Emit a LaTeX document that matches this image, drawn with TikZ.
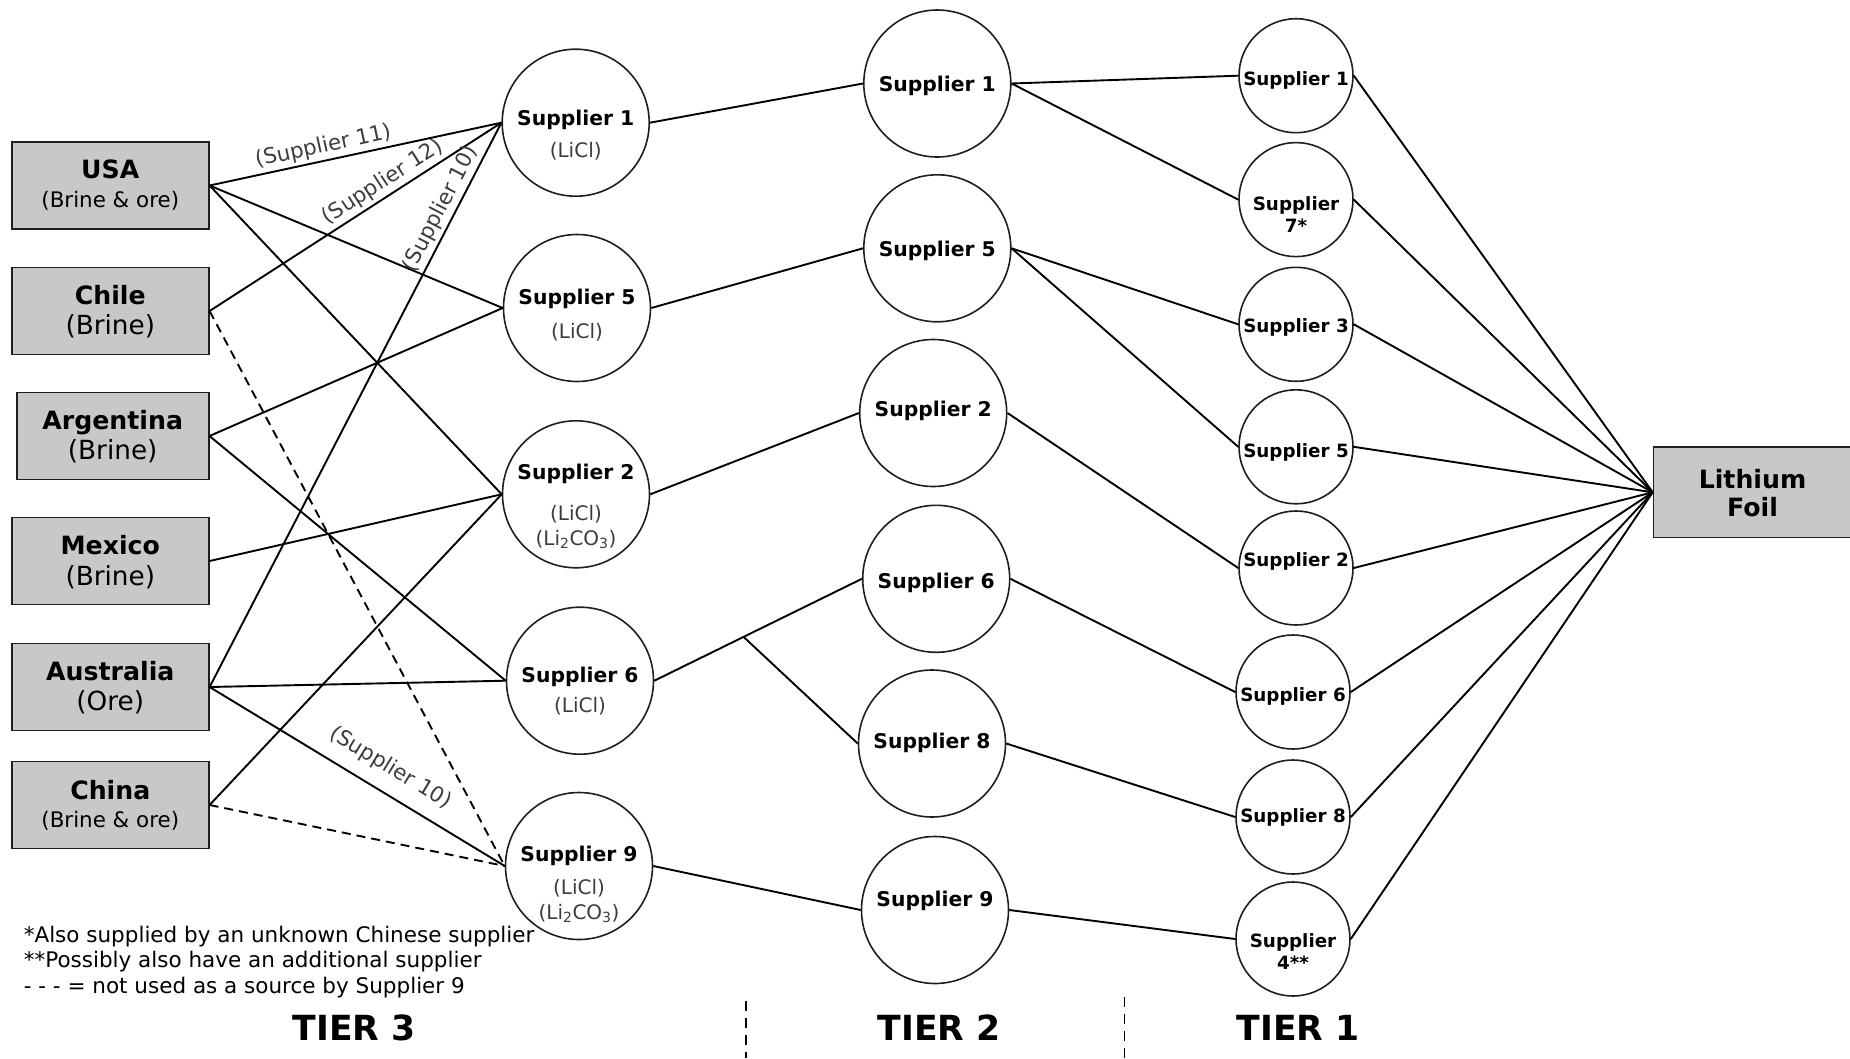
\documentclass[tikz,border=0pt]{standalone}
\usepackage{fontspec}
\setmainfont{DejaVu Sans}
\definecolor{boxfill}{RGB}{200,200,200}
\definecolor{ink}{RGB}{30,30,30}
\definecolor{soft}{RGB}{60,60,60}
\begin{document}
\begin{tikzpicture}[x=1pt,y=-1pt,
  country/.style={draw=ink, line width=1.6pt, fill=boxfill, minimum width=197pt, minimum height=87pt, inner sep=0pt},
  big/.style={circle, draw=ink, line width=1.6pt, minimum size=147pt, inner sep=0pt},
  small/.style={circle, draw=ink, line width=1.6pt, minimum size=114pt, inner sep=0pt},
  ctitle/.style={anchor=mid, yshift=-7pt, inner sep=0pt, font=\fontsize{25.2}{30}\selectfont\bfseries},
  csubA/.style={anchor=mid, yshift=-6.5pt, inner sep=0pt, font=\fontsize{21.4}{26}\selectfont},
  csubB/.style={anchor=mid, yshift=-8pt, inner sep=0pt, font=\fontsize{26.3}{31}\selectfont},
  sname/.style={anchor=mid, yshift=-5pt, inner sep=0pt, font=\fontsize{20.3}{24}\selectfont\bfseries},
  tname/.style={anchor=mid, yshift=-5pt, inner sep=0pt, font=\fontsize{18.3}{21}\selectfont\bfseries},
  chem/.style={anchor=mid, yshift=-5.5pt, inner sep=0pt, text=soft, font=\fontsize{20}{24}\selectfont},
  link/.style={line width=1.9pt, draw=black},
  notused/.style={link, dash pattern=on 9pt off 6pt},
  elabel/.style={sloped, above, inner sep=3pt, text=soft, font=\fontsize{21.3}{25}\selectfont},
  tier/.style={anchor=mid, yshift=-10.5pt, inner sep=0pt, font=\fontsize{34.6}{40}\selectfont\bfseries},
  note/.style={anchor=mid west, yshift=-6pt, inner sep=0pt, font=\fontsize{21.5}{25}\selectfont},
  divider/.style={line width=1.5pt, draw=black, dash pattern=on 10pt off 7pt}
]
\useasboundingbox (0,0) rectangle (1850,1058);

% ---- raw material sources ----
\node[country] (usa) at (110.3,185.5) {};
\node[ctitle] (usa-t) at (110.3,169) {USA};
\node[csubA] (usa-s) at (110.3,198.5) {(Brine \& ore)};

\node[country] (chile) at (110.3,311) {};
\node[ctitle] (chile-t) at (110.3,294.5) {Chile};
\node[csubB] (chile-s) at (110.3,324) {(Brine)};

\node[country, minimum width=192pt] (arg) at (112.7,436) {};
\node[ctitle] (arg-t) at (112.7,419.5) {Argentina};
\node[csubB] (arg-s) at (112.7,449) {(Brine)};

\node[country] (mex) at (110.3,561) {};
\node[ctitle] (mex-t) at (110.3,544.5) {Mexico};
\node[csubB] (mex-s) at (110.3,575) {(Brine)};

\node[country] (aus) at (110.3,687) {};
\node[ctitle] (aus-t) at (110.3,670.5) {Australia};
\node[csubB] (aus-s) at (110.3,700) {(Ore)};

\node[country] (china) at (110.3,805) {};
\node[ctitle] (china-t) at (110.3,789.5) {China};
\node[csubA] (china-s) at (110.3,818.5) {(Brine \& ore)};

% ---- tier 3 ----
\node[big] (s1) at (575.7,122.7) {};
\node[sname] (s1-n) at (575.7,118) {Supplier 1};
\node[chem] (s1-c) at (575.7,149.7) {(LiCl)};

\node[big] (s5) at (577,308) {};
\node[sname] (s5-n) at (577,296.7) {Supplier 5};
\node[chem] (s5-c) at (577,330) {(LiCl)};

\node[big] (s2) at (576,494.3) {};
\node[sname] (s2-n) at (576,471.7) {Supplier 2};
\node[chem] (s2-c) at (576,512.5) {(LiCl)};
\node[chem] (s2-d) at (576,537.4) {(Li\textsubscript{2}CO\textsubscript{3})};

\node[big] (s6) at (580,680.7) {};
\node[sname] (s6-n) at (580,674.4) {Supplier 6};
\node[chem] (s6-c) at (580,704.6) {(LiCl)};

\node[big] (s9) at (579,866) {};
\node[sname] (s9-n) at (579,854) {Supplier 9};
\node[chem] (s9-c) at (579,886.4) {(LiCl)};
\node[chem] (s9-d) at (579,911.3) {(Li\textsubscript{2}CO\textsubscript{3})};

% ---- tier 2 ----
\node[big] (a1) at (937.3,83.5) {};
\node[sname] (a1-n) at (937.3,83.5) {Supplier 1};
\node[big] (a5) at (937.3,248.3) {};
\node[sname] (a5-n) at (937.3,248.3) {Supplier 5};
\node[big] (a2) at (933.2,413) {};
\node[sname] (a2-n) at (933.2,409) {Supplier 2};
\node[big] (a6) at (936.2,578.8) {};
\node[sname] (a6-n) at (936.2,580.5) {Supplier 6};
\node[big] (a8) at (932,743.5) {};
\node[sname] (a8-n) at (932,741) {Supplier 8};
\node[big] (a9) at (935,910) {};
\node[sname] (a9-n) at (935,898.6) {Supplier 9};

% ---- tier 1 ----
\node[small] (b1) at (1296,75.7) {};
\node[tname] (b1-n) at (1296,77.7) {Supplier 1};
\node[small] (b7) at (1296,199.6) {};
\node[tname] (b7-n) at (1296,202.9) {Supplier};
\node[tname] (b7-m) at (1296,224.3) {7*};
\node[small] (b3) at (1296,324.3) {};
\node[tname] (b3-n) at (1296,324.3) {Supplier 3};
\node[small] (b5) at (1296,446.8) {};
\node[tname] (b5-n) at (1296,449.3) {Supplier 5};
\node[small] (b2) at (1296,568) {};
\node[tname] (b2-n) at (1296,558.7) {Supplier 2};
\node[small] (b6) at (1293,692) {};
\node[tname] (b6-n) at (1293,694) {Supplier 6};
\node[small] (b8) at (1293,817) {};
\node[tname] (b8-n) at (1293,815) {Supplier 8};
\node[small] (b4) at (1293,939) {};
\node[tname] (b4-n) at (1293,940) {Supplier};
\node[tname] (b4-m) at (1293,961.6) {4**};

% ---- product ----
\node[country, minimum width=198pt, minimum height=90.5pt] (foil) at (1752.5,492.3) {};
\node[ctitle] (foil-t) at (1752.5,478.6) {Lithium};
\node[ctitle] (foil-s) at (1752.5,507) {Foil};

% ---- sources to tier 3 ----
\draw[link] (usa.east) -- node[elabel, pos=0.4] {(Supplier 11)} (s1.west);
\draw[link] (usa.east) -- (s5.west);
\draw[link] (usa.east) -- (s2.west);
\draw[link] (chile.east) -- node[elabel, pos=0.62] {(Supplier 12)} (s1.west);
\draw[notused] (chile.east) -- (s9.west);
\draw[link] (arg.east) -- (s5.west);
\draw[link] (arg.east) -- (s6.west);
\draw[link] (mex.east) -- (s2.west);
\draw[link] (aus.east) -- node[elabel, pos=0.835] {(Supplier 10)} (s1.west);
\draw[link] (aus.east) -- (s6.west);
\draw[link] (aus.east) -- node[elabel, pos=0.57, above=10pt] {(Supplier 10)} (s9.west);
\draw[link] (china.east) -- (s2.west);
\draw[notused] (china.east) -- (s9.west);

% ---- tier 3 to tier 2 ----
\draw[link] (s1.east) -- (a1.west);
\draw[link] (s5.east) -- (a5.west);
\draw[link] (s2.east) -- (a2.west);
\draw[link] (s6.east) -- coordinate[pos=0.43] (fork) (a6.west);
\draw[link] (fork) -- (a8.west);
\draw[link] (s9.east) -- (a9.west);

% ---- tier 2 to tier 1 ----
\draw[link] (a1.east) -- (b1.west);
\draw[link] (a1.east) -- (b7.west);
\draw[link] (a5.east) -- (b3.west);
\draw[link] (a5.east) -- (b5.west);
\draw[link] (a2.east) -- (b2.west);
\draw[link] (a6.east) -- (b6.west);
\draw[link] (a8.east) -- (b8.west);
\draw[link] (a9.east) -- (b4.west);

% ---- tier 1 to product ----
\foreach \s in {b1,b7,b3,b5,b2,b6,b8,b4}
  \draw[link] (\s.east) -- (foil.west);

% ---- notes and tier captions ----
\node[note] (n1) at (23.6,934) {*Also supplied by an unknown Chinese supplier};
\node[note] (n2) at (23.6,959) {**Possibly also have an additional supplier};
\node[note] (n3) at (23.6,984.5) {- - - = not used as a source by Supplier 9};

\node[tier] (tier3) at (354,1027) {TIER 3};
\node[tier] (tier2) at (939,1027) {TIER 2};
\node[tier] (tier1) at (1298,1027) {TIER 1};
\draw[divider] (745.8,1001) -- (745.8,1058);
\draw[divider] (1124.7,997) -- (1124.7,1058);
\end{tikzpicture}
\end{document}
